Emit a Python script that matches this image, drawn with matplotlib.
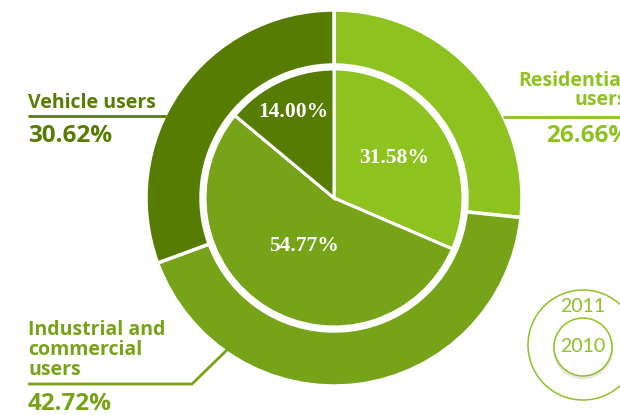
import numpy as np
import matplotlib
matplotlib.use("Agg")
import matplotlib.pyplot as plt
from matplotlib.patches import Circle

# user groups, share of gas consumption
groups = ["Residential users", "Industrial and commercial users", "Vehicle users"]
share_2011 = [26.66, 42.72, 30.62]
share_2010 = [31.58, 54.77, 14.00]
colors = ["#8dc21f", "#76a318", "#577c02"]

W, H = 620, 415
fig = plt.figure(figsize=(W / 100, H / 100), dpi=100)
ax = fig.add_axes([0, 0, 1, 1])

cx, cy = 334, H - 198
r_out, ring_w = 188, 55
r_in = 129

# outer ring: 2011
ax.pie(share_2011, colors=colors, radius=r_out, center=(cx, cy),
       startangle=90, counterclock=False, frame=True,
       wedgeprops=dict(width=ring_w, edgecolor="white", linewidth=2.5))

# inner pie: 2010
wedges, _ = ax.pie(share_2010, colors=colors, radius=r_in, center=(cx, cy),
                   startangle=90, counterclock=False, frame=True,
                   wedgeprops=dict(edgecolor="white", linewidth=2.2))
ax.add_patch(Circle((cx, cy), r_in + 1.5, fill=False, ec="white", lw=3.2, zorder=3))
ax.set_xlim(0, W)
ax.set_ylim(0, H)
ax.set_aspect("equal")
ax.axis("off")

# percent labels inside the 2010 pie
label_r = [0.56, 0.44, 0.74]
for w, v, fr in zip(wedges, share_2010, label_r):
    mid = np.deg2rad((w.theta1 + w.theta2) / 2)
    ax.text(cx + fr * r_in * np.cos(mid), cy + fr * r_in * np.sin(mid),
            f"{v:.2f}%", color="white", fontsize=15.5, fontweight="bold",
            family="Liberation Serif", ha="center", va="center", zorder=4)

name_font = dict(family="Open Sans", fontweight="bold", fontsize=14)
pct_font = dict(family="Open Sans", fontweight="bold", fontsize=17.5)

# vehicle users (left, top)
ax.plot([28, 166], [H - 116, H - 116], color=colors[2], lw=2, solid_capstyle="butt")
ax.text(28, H - 108, "Vehicle users", color=colors[2], ha="left", va="baseline", **name_font)
ax.text(28, H - 142, f"{share_2011[2]:.2f}%", color=colors[2], ha="left", va="baseline", **pct_font)

# residential users (right, runs past the edge)
ax.plot([503, W], [H - 117, H - 117], color=colors[0], lw=2, solid_capstyle="butt")
ax.text(627, H - 105, "Residential\nusers", color=colors[0], ha="right", va="baseline",
        multialignment="right", linespacing=0.95, **name_font)
ax.text(630, H - 142, f"{share_2011[0]:.2f}%", color=colors[0], ha="right", va="baseline", **pct_font)

# industrial and commercial users (left, bottom)
ax.plot([28, 192, 230], [H - 384, H - 384, H - 347], color=colors[1], lw=2,
        solid_joinstyle="miter", solid_capstyle="butt")
ax.text(28, H - 375, "Industrial and\ncommercial\nusers", color=colors[1], ha="left",
        va="baseline", linespacing=1.0, **name_font)
ax.text(28, H - 410, f"{share_2011[1]:.2f}%", color=colors[1], ha="left", va="baseline", **pct_font)

# year key, bottom right
ax.add_patch(Circle((583, H - 345), 55, fill=False, ec=colors[0], lw=1.1))
ax.add_patch(Circle((583, H - 349), 29, fill=False, ec="#d8d8d8", lw=2.0, alpha=0.6))
ax.add_patch(Circle((583, H - 347), 29, fc="white", ec=colors[0], lw=1.1))
ax.text(583, H - 307, "2011", color=colors[0], fontsize=14, family="Lato",
        fontweight="normal", ha="center", va="center")
ax.text(583, H - 346, "2010", color=colors[0], fontsize=14, family="Lato",
        fontweight="normal", ha="center", va="center")

fig.savefig("out.png", dpi=100)
